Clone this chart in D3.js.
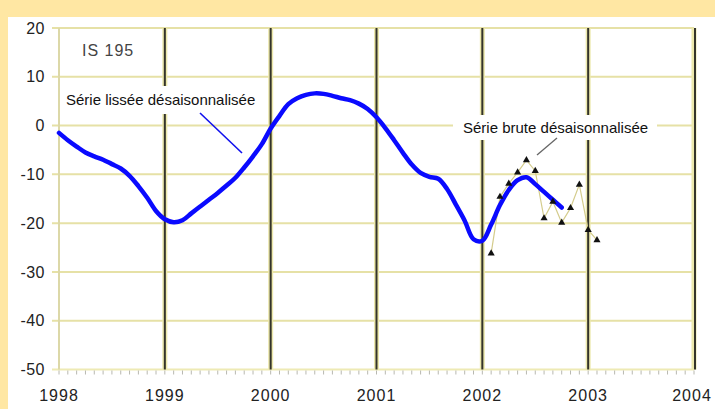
<!DOCTYPE html>
<html>
<head>
<meta charset="utf-8">
<script src="https://cdn.jsdelivr.net/npm/d3@7"></script>
<style>
  html, body { margin: 0; padding: 0; background: #FFE7A3; }
  svg { display: block; }
  text { font-family: "Liberation Sans", Arial, sans-serif; }
</style>
</head>
<body>
<svg id="chart" width="715" height="409"></svg>
<script>
// Axis ticks
const yearTicks = [1998, 1999, 2000, 2001, 2002, 2003, 2004];
const valueTicks = [20, 10, 0, -10, -20, -30, -40, -50];

// Smoothed, seasonally adjusted series: monthly from January 1998
const smoothStart = 1998;
const smoothValues = [
  -1.5, -3.0, -4.3, -5.5, -6.3, -7.0, -7.9, -8.8, -10.3, -12.4, -14.8, -17.5,
  -19.2, -19.8, -19.4, -18.0, -16.6, -15.2, -13.8, -12.3, -10.7, -8.6, -6.3, -3.8,
  -0.6, 2.0, 4.4, 5.6, 6.3, 6.6, 6.5, 6.1, 5.6, 5.2, 4.5, 3.4,
  1.7, -0.5, -3.0, -5.6, -8.0, -9.7, -10.5, -10.9, -13.0, -16.2, -19.5, -23.3,
  -23.6, -20.3, -16.3, -13.2, -11.2, -10.6, -12.0, -13.6, -15.2, -16.8
];

// Raw, seasonally adjusted series: monthly from February 2002
const rawStart = 2002 + 1 / 12;
const rawValues = [-26.2, -14.6, -11.9, -9.6, -7.1, -9.3, -19.0, -15.6, -19.9, -16.9, -12.1, -21.4, -23.5];

const labelSmooth = "Série lissée désaisonnalisée";
const labelRaw = "Série brute désaisonnalisée";
const seriesTitle = "IS 195";

const svg = d3.select("#chart");

// white panel over the peach frame
svg.append("rect").attr("x", 8).attr("y", 17).attr("width", 707).attr("height", 392).attr("fill", "#ffffff");

const x = d3.scaleLinear().domain([1998, 2004]).range([59, 694]);
const y = d3.scaleLinear().domain([-50, 20]).range([369.5, 28]);

const grid = svg.append("g");

// horizontal grid lines
grid.selectAll("line.h").data(valueTicks).join("line")
  .attr("class", "h")
  .attr("x1", x(1998) - 7).attr("x2", x(2004))
  .attr("y1", d => y(d)).attr("y2", d => y(d))
  .attr("stroke", d => d === -50 ? "#EEEAB4" : "#E6E1A6")
  .attr("stroke-width", 2);

// left axis line
grid.append("line")
  .attr("x1", x(1998)).attr("x2", x(1998)).attr("y1", y(20)).attr("y2", y(-50))
  .attr("stroke", "#DCD8A8").attr("stroke-width", 2);

// year lines: yellow halo with dark core
const yearLines = yearTicks.filter(d => d > 1998);
grid.selectAll("line.vh").data(yearLines).join("line")
  .attr("class", "vh")
  .attr("x1", d => x(d)).attr("x2", d => x(d)).attr("y1", y(20)).attr("y2", y(-50))
  .attr("stroke", "#ECE8AC").attr("stroke-width", 5);
grid.selectAll("line.vd").data(yearLines).join("line")
  .attr("class", "vd")
  .attr("x1", d => x(d) + (d === 2004 ? 1 : 0)).attr("x2", d => x(d) + (d === 2004 ? 1 : 0))
  .attr("y1", y(20)).attr("y2", y(-50))
  .attr("stroke", "#34342a").attr("stroke-width", 2);

// monthly minor ticks under the x axis
const monthTicks = d3.range(0, 6 * 12 + 1).map(i => 1998 + i / 12);
grid.selectAll("line.mt").data(monthTicks).join("line")
  .attr("class", "mt")
  .attr("x1", d => x(d)).attr("x2", d => x(d))
  .attr("y1", y(-50) + 1).attr("y2", y(-50) + 5)
  .attr("stroke", "#b8b8b0").attr("stroke-width", 1);

// axis labels
svg.append("g").selectAll("text").data(valueTicks).join("text")
  .attr("x", 45).attr("y", d => y(d)).attr("dy", "0.35em")
  .attr("text-anchor", "end")
  .attr("font-size", 16).attr("letter-spacing", 0.5).attr("fill", "#222")
  .text(d => d);

svg.append("g").selectAll("text").data(yearTicks).join("text")
  .attr("x", d => x(d) - (d === 2004 ? 2 : 0)).attr("y", 395).attr("dy", "0.35em")
  .attr("text-anchor", "middle")
  .attr("font-size", 16).attr("letter-spacing", 1).attr("fill", "#222")
  .text(d => d);

// series title
svg.append("text")
  .attr("x", 82).attr("y", 50).attr("dy", "0.35em")
  .attr("font-size", 16).attr("letter-spacing", 1).attr("fill", "#444")
  .text(seriesTitle);

// raw series: thin connecting line and triangle markers
const rawData = rawValues.map((v, i) => ({ t: rawStart + i / 12, v }));
svg.append("path").datum(rawData)
  .attr("fill", "none").attr("stroke", "#D4CC8C").attr("stroke-width", 1.2)
  .attr("d", d3.line().x(d => x(d.t)).y(d => y(d.v)));

// smoothed series
const smoothData = smoothValues.map((v, i) => ({ t: smoothStart + i / 12, v }));
svg.append("path").datum(smoothData)
  .attr("fill", "none").attr("stroke", "#0a0aff").attr("stroke-width", 4.5)
  .attr("stroke-linejoin", "round").attr("stroke-linecap", "round")
  .attr("d", d3.line().x(d => x(d.t)).y(d => y(d.v)).curve(d3.curveCatmullRom));

svg.append("g").selectAll("path").data(rawData).join("path")
  .attr("transform", d => `translate(${x(d.t)},${y(d.v)})`)
  .attr("d", d3.symbol(d3.symbolTriangle, 22))
  .attr("fill", "#111");

// annotation: smoothed series
svg.append("rect").attr("x", 60).attr("y", 86).attr("width", 202).attr("height", 28).attr("fill", "#fff");
svg.append("text").attr("x", 66).attr("y", 100).attr("dy", "0.35em")
  .attr("font-size", 15).attr("fill", "#111").text(labelSmooth);
svg.append("line").attr("x1", 200).attr("y1", 113).attr("x2", 242).attr("y2", 153)
  .attr("stroke", "#1010ee").attr("stroke-width", 1.6);

// annotation: raw series
svg.append("rect").attr("x", 453).attr("y", 115).attr("width", 204).attr("height", 25).attr("fill", "#fff");
svg.append("text").attr("x", 463).attr("y", 128).attr("dy", "0.35em")
  .attr("font-size", 15).attr("fill", "#111").text(labelRaw);
svg.append("line").attr("x1", 537).attr("y1", 155).attr("x2", 557).attr("y2", 138)
  .attr("stroke", "#666").attr("stroke-width", 1.3);
</script>
</body>
</html>
